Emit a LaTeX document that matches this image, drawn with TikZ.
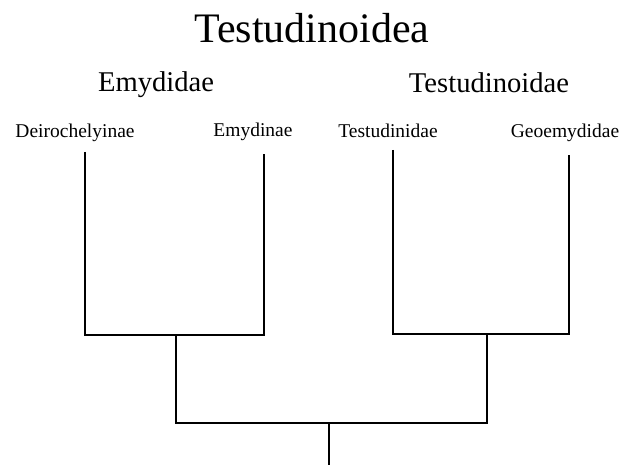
\documentclass[tikz,border=0pt]{standalone}
\usepackage{fontspec}
\setmainfont{Liberation Serif}
\begin{document}
\begin{tikzpicture}[x=1pt,y=-1pt,line width=1.8pt,
    cladename/.style={anchor=base,font=\fontsize{28.6}{30}\selectfont},
    leafname/.style={anchor=base,font=\fontsize{19.5}{21}\selectfont}]
    \useasboundingbox (0,0) rectangle (631,465);

    % Add names
    \node[anchor=base,font=\fontsize{42}{44}\selectfont] (superfam) at (312,43) {Testudinoidea};
    \node[cladename] (emydidae) at (156,92) {Emydidae};
    \node[cladename] (testudinoidae) at (489,93) {Testudinoidae};
    \node[leafname] (deiro) at (75,138) {Deirochelyinae};
    \node[leafname] (emydinae) at (253,137) {Emydinae};
    \node[leafname] (testudinidae) at (388,138) {Testudinidae};
    \node[leafname] (geoemydidae) at (565,138) {Geoemydidae};

    % Tips and joints
    \coordinate (deiro-tip) at (85,152);
    \coordinate (emydinae-tip) at (264,154);
    \coordinate (testudinidae-tip) at (393,150);
    \coordinate (geoemydidae-tip) at (569,155);
    \coordinate (deiro-low) at (85,335);
    \coordinate (emydinae-low) at (264,335);
    \coordinate (testudinidae-low) at (393,334);
    \coordinate (geoemydidae-low) at (569,334);
    \coordinate (emydidae-node) at (176,335);
    \coordinate (testudinoidae-node) at (487,334);
    \coordinate (emydidae-low) at (176,423);
    \coordinate (testudinoidae-low) at (487,423);
    \coordinate (root-node) at (329,423);
    \coordinate (root-end) at (329,465);

    % Connect points
    \draw (deiro-tip) -- (deiro-low) -- (emydinae-low) -- (emydinae-tip);
    \draw (testudinidae-tip) -- (testudinidae-low) -- (geoemydidae-low) -- (geoemydidae-tip);
    \draw (emydidae-node) -- (emydidae-low) -- (testudinoidae-low) -- (testudinoidae-node);
    \draw (root-node) -- (root-end);
\end{tikzpicture}
\end{document}
